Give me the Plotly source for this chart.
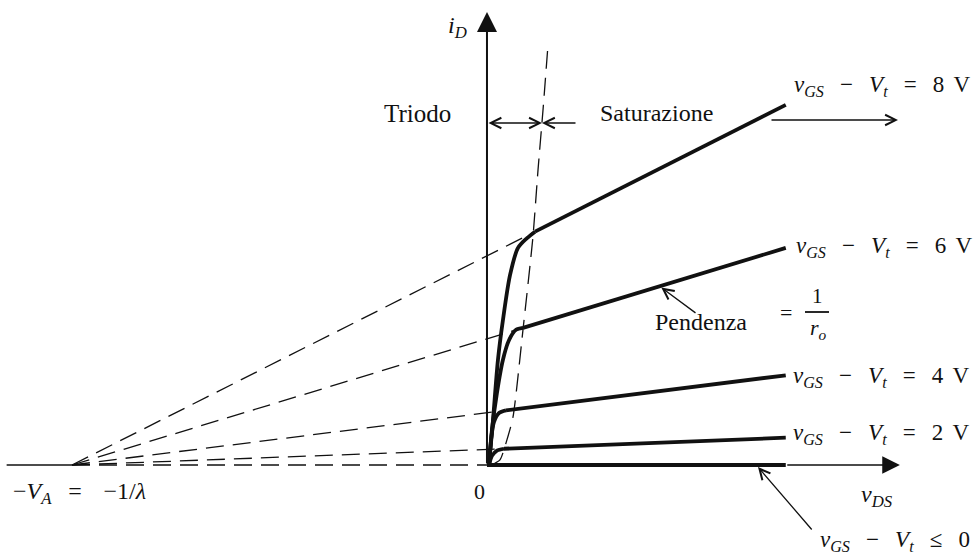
import plotly.graph_objects as go

# ---------------------------------------------------------------
# MOSFET output characteristics with channel-length modulation
# v_DS in volts, i_D in mA
# ---------------------------------------------------------------

# Early voltage: every saturation line extrapolates back to -V_A
V_A = 40.0
V_DS_END = 28.8  # last v_DS drawn for the solid characteristics

# overdrive voltages v_GS - V_t of the drawn characteristics (V)
overdrive = [8, 6, 4, 2, 0]

# i_D at the right end of each saturation line (mA)
i_end = [55.4, 33.4, 13.8, 4.2, 0.0]

# triode-region points of each curve, ending at its saturation knee
v_tri_8 = [0.2, 0.58, 1.06, 1.54, 2.22, 2.99, 3.86, 4.63]
i_tri_8 = [0.0, 6.9, 16.2, 22.3, 29.2, 33.4, 34.9, 35.9]
v_tri_6 = [0.2, 0.48, 0.96, 1.54, 2.12, 2.80, 3.47]
i_tri_6 = [0.0, 5.4, 11.1, 16.2, 19.2, 20.8, 21.1]
v_tri_4 = [0.2, 0.39, 0.67, 1.16, 1.83]
i_tri_4 = [0.0, 3.8, 6.6, 8.0, 8.4]
v_tri_2 = [0.2, 0.48, 0.96, 1.64]
i_tri_2 = [0.0, 1.4, 2.2, 2.5]
v_tri_0 = [0.0]
i_tri_0 = [0.0]

# locus of the knees: boundary between triode and saturation
v_edge = [0.4, 1.25, 1.93, 2.51, 3.47, 4.43, 4.92, 5.40, 5.88]
i_edge = [0.0, 0.8, 3.9, 7.4, 20.8, 35.1, 45.4, 54.6, 64.6]

# axis extents
V_AXIS_LEFT = -46.3
V_AXIS_TIP = 39.8
I_AXIS_TIP = 69.7

v_tri = [v_tri_8, v_tri_6, v_tri_4, v_tri_2, v_tri_0]
i_tri = [i_tri_8, i_tri_6, i_tri_4, i_tri_2, i_tri_0]

INK = "#111111"
FONT = "Liberation Serif"
THICK = 3.8
DASH = "18px,9px"

fig = go.Figure()

# negative v_DS axis, solid beyond -V_A
fig.add_trace(go.Scatter(x=[V_AXIS_LEFT, -V_A], y=[0, 0], mode="lines",
                         line=dict(color=INK, width=1.6)))

for k, vov in enumerate(overdrive):
    vk, ik = v_tri[k], i_tri[k]
    # dashed extrapolation of the saturation line back to -V_A
    fig.add_trace(go.Scatter(x=[-V_A, vk[-1]], y=[0, ik[-1]], mode="lines",
                             line=dict(color=INK, width=1.3, dash=DASH)))
    # triode region
    if len(vk) > 1:
        fig.add_trace(go.Scatter(x=vk, y=ik, mode="lines",
                                 line=dict(color=INK, width=THICK,
                                           shape="spline", smoothing=0.8)))
    # saturation region with finite output resistance
    fig.add_trace(go.Scatter(x=[vk[-1], V_DS_END], y=[ik[-1], i_end[k]],
                             mode="lines", line=dict(color=INK, width=THICK)))

# triode / saturation boundary
fig.add_trace(go.Scatter(x=v_edge, y=i_edge, mode="lines",
                         line=dict(color=INK, width=1.3, dash=DASH,
                                   shape="spline", smoothing=0.6)))

X_MIN, X_MAX = -46.94, 47.33
Y_MIN, Y_MAX = -14.0, 71.54
W, H = 978, 556


def px(p):
    return p / W


def py(p):
    return 1 - p / H


def to_v(p):
    return X_MIN + (X_MAX - X_MIN) * p / W


def to_i(p):
    return Y_MAX - (Y_MAX - Y_MIN) * p / H


annotations = []


def text(s, x, y, size=21, xanchor="center"):
    annotations.append(dict(text=s, x=px(x), y=py(y), xref="paper", yref="paper",
                            xanchor=xanchor, yanchor="middle", showarrow=False,
                            font=dict(family=FONT, size=size, color=INK)))


def arrow(x0, y0, x1, y1, head=2, width=1.5, size=2.0, both=False):
    a = dict(x=x1, y=y1, ax=x0, ay=y0, xref="x", yref="y", axref="x", ayref="y",
             text="", showarrow=True, arrowhead=head, arrowwidth=width,
             arrowsize=size, arrowcolor=INK, standoff=0)
    if both:
        a.update(arrowside="end+start", startarrowhead=head, startarrowsize=size,
                 startstandoff=0)
    annotations.append(a)


def sub(s):
    return f"<sub><i>{s}</i></sub>"


GAP = "\u2002\u2009"  # en space + thin space around operators

# coordinate axes
arrow(0, 0, 0, I_AXIS_TIP, head=2, width=2.0, size=2.0)
arrow(V_DS_END, 0, V_AXIS_TIP, 0, head=2, width=1.6, size=2.2)

# region markers
y_reg = to_i(123)
v_bound = 5.3
arrow(0, y_reg, v_bound, y_reg, head=5, width=1.3, size=1.6, both=True)
arrow(to_v(577), y_reg, v_bound, y_reg, head=5, width=1.3, size=1.6)

# the top characteristic keeps rising
arrow(to_v(770), to_i(120), to_v(898), to_i(120), head=5, width=1.3, size=1.6)

# slope pointer on the 6 V line
arrow(to_v(697), to_i(314), 16.8, 27.3, head=5, width=1.3, size=1.6)

# pointer to the cut-off characteristic
arrow(to_v(813), to_i(531), to_v(758), to_i(467), head=5, width=1.3, size=1.6)


def vov_label(vov):
    lhs = "<i>v</i>" + sub("GS") + GAP + "\u2212" + GAP + "<i>V</i>" + sub("t")
    if vov == 0:
        return lhs + GAP + "\u2264" + GAP + "0"
    return lhs + GAP + "=" + GAP + f"{vov}\u2009\u2009V"


# right edge and vertical centre of each curve label
label_pos = {8: (973, 86), 6: (975, 247), 4: (972, 377), 2: (972, 434), 0: (972, 541)}
for vov in overdrive:
    lx, ly = label_pos[vov]
    text(vov_label(vov), lx, ly, size=23, xanchor="right")

text("<i>i</i>" + sub("D"), 457, 27, size=24)
text("<i>v</i>" + sub("DS"), 877, 496, size=24)
text("0", 479, 491, size=22)
text("\u2212<i>V</i>" + sub("A") + GAP + "=" + GAP + "\u2009\u22121/<i>\u03bb</i>",
     11, 493, size=24, xanchor="left")
text("Triodo", 417, 113, size=25)
text("Saturazione", 656, 113, size=24)
text("Pendenza", 701, 322, size=24)
text("=", 786, 312, size=22)
text("1", 817, 296, size=21)
text("<i>r</i>" + sub("o"), 818, 329, size=22)

fig.update_layout(
    width=W, height=H,
    margin=dict(l=0, r=0, t=0, b=0),
    paper_bgcolor="white", plot_bgcolor="white",
    showlegend=False,
    xaxis=dict(range=[X_MIN, X_MAX], visible=False, fixedrange=True),
    yaxis=dict(range=[Y_MIN, Y_MAX], visible=False, fixedrange=True),
    annotations=annotations,
    shapes=[dict(type="line", xref="paper", yref="paper",
                 x0=px(805), x1=px(829), y0=py(312), y1=py(312),
                 line=dict(color=INK, width=1.8))],
)

fig.write_html("out.html", config={"displayModeBar": False})
